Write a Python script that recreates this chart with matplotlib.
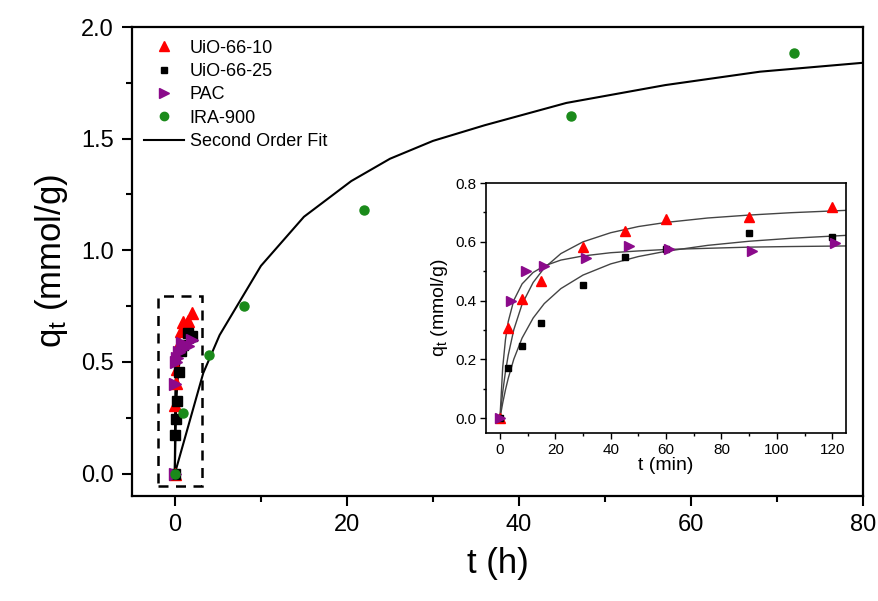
import matplotlib
matplotlib.use("Agg")
import matplotlib.pyplot as plt
from matplotlib.patches import Rectangle
from matplotlib.ticker import MultipleLocator
from matplotlib.lines import Line2D

plt.rcParams["font.family"] = ["Liberation Sans", "DejaVu Sans"]
plt.rcParams["mathtext.default"] = "regular"

# Inset data, time in minutes
t_uio10 = [0, 3, 8, 15, 30, 45, 60, 90, 120]
q_uio10 = [0.0, 0.307, 0.404, 0.468, 0.581, 0.638, 0.677, 0.683, 0.719]
t_uio25 = [0, 3, 8, 15, 30, 45, 60, 90, 120]
q_uio25 = [0.0, 0.172, 0.245, 0.325, 0.453, 0.547, 0.575, 0.630, 0.617]
t_pac = [0, 4, 9.5, 16, 31, 46.5, 61, 91, 121]
q_pac = [0.0, 0.400, 0.500, 0.518, 0.544, 0.585, 0.576, 0.569, 0.597]

# Fit curves (minutes)
t_fit = [0, 1, 2, 3, 5, 8, 12, 16, 22, 30, 40, 50, 60, 75, 90, 105, 125]
fit_uio10 = [0, 0.089, 0.159, 0.215, 0.301, 0.388, 0.462, 0.511, 0.560, 0.600,
             0.631, 0.652, 0.666, 0.681, 0.691, 0.699, 0.707]
fit_uio25 = [0, 0.052, 0.097, 0.136, 0.201, 0.273, 0.341, 0.390, 0.441, 0.487,
             0.525, 0.550, 0.568, 0.588, 0.602, 0.612, 0.622]
fit_pac = [0, 0.173, 0.268, 0.329, 0.401, 0.457, 0.496, 0.518, 0.538, 0.552,
           0.563, 0.569, 0.574, 0.578, 0.582, 0.584, 0.586]

# IRA-900, time in hours
t_ira = [0, 1, 4, 8, 22, 46, 72]
q_ira = [0.0, 0.27, 0.53, 0.75, 1.18, 1.60, 1.885]
t_ira_fit = [0, 3.3, 5.2, 10, 15, 20.5, 25, 30, 36, 45.5, 57, 68, 80]
q_ira_fit = [0, 0.45, 0.62, 0.93, 1.15, 1.31, 1.41, 1.49, 1.56, 1.66, 1.74, 1.80, 1.84]

RED = "#ff0000"
PURPLE = "#8b0a8b"
GREEN = "#1a8a1a"


def hours(ts):
    return [t / 60.0 for t in ts]


fig = plt.figure(figsize=(8.79, 6.01), dpi=100)
ax = fig.add_axes([0.150, 0.175, 0.832, 0.780])

# main plot
for fit in (fit_uio10, fit_uio25, fit_pac):
    ax.plot(hours(t_fit), fit, color="black", lw=1.5, zorder=2)
ax.plot(t_ira_fit, q_ira_fit, color="black", lw=1.5, zorder=2)

ax.plot(hours(t_uio10), q_uio10, "^", color=RED, ms=8, ls="none", zorder=3)
ax.plot(hours(t_uio25), q_uio25, "s", color="black", ms=6.5, ls="none", zorder=3)
ax.plot(hours(t_pac), q_pac, ">", color=PURPLE, ms=8, ls="none", zorder=3)
ax.plot(t_ira, q_ira, "o", color=GREEN, ms=6.5, ls="none", zorder=4)

ax.add_patch(Rectangle((-1.95, -0.057), 5.05, 0.853, fill=False, ls=(0, (4, 3)),
                       lw=1.8, ec="black", zorder=5))

ax.set_xlim(-5, 80)
ax.set_ylim(-0.1, 2.0)
ax.xaxis.set_major_locator(MultipleLocator(20))
ax.xaxis.set_minor_locator(MultipleLocator(10))
ax.yaxis.set_major_locator(MultipleLocator(0.5))
ax.yaxis.set_minor_locator(MultipleLocator(0.25))
ax.yaxis.set_major_formatter(plt.FormatStrFormatter("%.1f"))
ax.tick_params(which="both", direction="out", top=False, right=False, width=1.5)
ax.tick_params(which="major", length=7, labelsize=17, pad=6)
ax.tick_params(which="minor", length=4)
for s in ax.spines.values():
    s.set_linewidth(1.6)
ax.set_xlabel("t (h)", fontsize=25, labelpad=8)
ax.set_ylabel("q$_t$ (mmol/g)", fontsize=25, labelpad=8)

handles = [
    Line2D([], [], marker="^", color=RED, ls="none", ms=7),
    Line2D([], [], marker="s", color="black", ls="none", ms=5),
    Line2D([], [], marker=">", color=PURPLE, ls="none", ms=7),
    Line2D([], [], marker="o", color=GREEN, ls="none", ms=6),
    Line2D([], [], color="black", lw=1.5),
]
labels = ["UiO-66-10", "UiO-66-25", "PAC", "IRA-900", "Second Order Fit"]
ax.legend(handles, labels, loc="upper left", frameon=False, fontsize=13,
          handlelength=2.2, handletextpad=0.3, labelspacing=0.35,
          borderaxespad=0.3, bbox_to_anchor=(0.0, 1.0))

# inset
ins = fig.add_axes([0.553, 0.2795, 0.4096, 0.416])
for fit in (fit_uio10, fit_uio25, fit_pac):
    ins.plot(t_fit, fit, color="#444444", lw=1.0, zorder=2)
ins.plot(t_uio10, q_uio10, "^", color=RED, ms=6.5, ls="none", zorder=3)
ins.plot(t_uio25, q_uio25, "s", color="black", ms=4.5, ls="none", zorder=3)
ins.plot(t_pac, q_pac, ">", color=PURPLE, ms=6.5, ls="none", zorder=3)

ins.set_xlim(-5, 125)
ins.set_ylim(-0.05, 0.8)
ins.xaxis.set_major_locator(MultipleLocator(20))
ins.xaxis.set_minor_locator(MultipleLocator(10))
ins.yaxis.set_major_locator(MultipleLocator(0.2))
ins.yaxis.set_minor_locator(MultipleLocator(0.1))
ins.yaxis.set_major_formatter(plt.FormatStrFormatter("%.1f"))
ins.tick_params(which="both", direction="out", top=False, right=False, width=1.0)
ins.tick_params(which="major", length=4, labelsize=11, pad=3)
ins.tick_params(which="minor", length=2.5)
for s in ins.spines.values():
    s.set_linewidth(1.2)
ins.set_xlabel("t (min)", fontsize=14, labelpad=0)
ins.set_ylabel("q$_t$ (mmol/g)", fontsize=14, labelpad=4)

fig.savefig("out.png", dpi=100)
